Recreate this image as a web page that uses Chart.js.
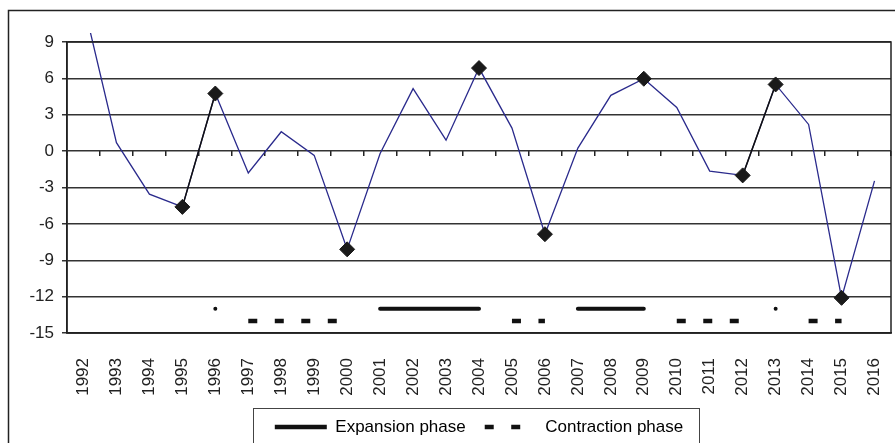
<!DOCTYPE html>
<html>
<head>
<meta charset="utf-8">
<script src="https://cdn.jsdelivr.net/npm/chart.js@4.4.1/dist/chart.umd.min.js"></script>
<style>
    html, body { margin: 0; padding: 0; background: #fff; overflow: hidden; }
    #wrap { width: 895px; height: 443px; }
</style>
</head>
<body>
<div id="wrap"><canvas id="cycleChart" width="895" height="443"></canvas></div>
<script>
// categories
const years = ["1992", "1993", "1994", "1995", "1996", "1997", "1998", "1999", "2000",
    "2001", "2002", "2003", "2004", "2005", "2006", "2007", "2008", "2009", "2010",
    "2011", "2012", "2013", "2014", "2015", "2016"];

// growth series (blue line)
const growth = [12.2, 0.7, -3.55, -4.6, 4.75, -1.8, 1.6, -0.35, -8.1,
    -0.2, 5.15, 0.9, 6.85, 1.9, -6.85, 0.25, 4.6, 5.97, 3.6,
    -1.65, -2.0, 5.5, 2.2, -12.1, -2.45];

// turning points (diamonds)
const turningPoints = [null, null, null, -4.6, 4.75, null, null, null, -8.1,
    null, null, null, 6.85, null, -6.85, null, null, 5.97, null,
    null, -2.0, 5.5, null, -12.1, null];

// phase markers at the bottom of the plot
const expansion = [null, null, null, null, -13, null, null, null, null,
    -13, -13, -13, -13, null, null, -13, -13, -13, null,
    null, null, -13, null, null, null];
const contraction = [null, null, null, null, null, -14, -14, -14, -14,
    null, null, null, null, -14, -14, null, null, null, -14,
    -14, -14, null, -14, -14, null];

// y axis tick labels
const yTicks = [-15, -12, -9, -6, -3, 0, 3, 6, 9];

document.addEventListener("DOMContentLoaded", function () {
    Chart.defaults.font.family = "'Liberation Sans', Arial, sans-serif";
    Chart.defaults.font.size = 17;
    Chart.defaults.color = "#222";

    // isolated phase points show as a small dot
    function dotIfAlone(ctx) {
        const d = ctx.dataset.data;
        const i = ctx.dataIndex;
        if (d[i] === null) return 0;
        const prev = i > 0 ? d[i - 1] : null;
        const next = i < d.length - 1 ? d[i + 1] : null;
        return prev === null && next === null ? 1.3 : 0;
    }

    // no label overhang on the sides of the x axes
    function noSidePadding(scale) {
        scale.paddingLeft = 0;
        scale.paddingRight = 0;
    }

    // outer frame, plot frame, legend frame
    const frames = {
        id: "frames",
        beforeDraw: function (chart) {
            const ctx = chart.ctx;
            ctx.save();
            ctx.fillStyle = "#fff";
            ctx.fillRect(0, 0, chart.width, chart.height);
            ctx.strokeStyle = "#222";
            ctx.lineWidth = 1.5;
            ctx.strokeRect(8.5, 10.5, chart.width + 20, chart.height + 20);
            ctx.restore();
        },
        afterDraw: function (chart) {
            const ctx = chart.ctx;
            const a = chart.chartArea;
            ctx.save();
            ctx.strokeStyle = "#222";
            ctx.lineWidth = 1.5;
            ctx.strokeRect(a.left, a.top, a.right - a.left, a.bottom - a.top);
            const hb = chart.legend.legendHitBoxes;
            if (hb && hb.length) {
                const first = hb[0];
                const last = hb[hb.length - 1];
                const left = Math.round(first.left - 22) + 0.5;
                const right = Math.round(last.left + last.width + 16) + 0.5;
                const top = Math.round(first.top - 11) + 0.5;
                ctx.strokeStyle = "#444";
                ctx.lineWidth = 1;
                ctx.strokeRect(left, top, right - left, chart.height + 10 - top);
            }
            ctx.restore();
        },
    };

    const ctx = document.getElementById("cycleChart").getContext("2d");
    new Chart(ctx, {
        type: "line",
        data: {
            labels: years,
            datasets: [
                {
                    label: "Growth",
                    data: growth,
                    borderColor: "#2a2a8c",
                    borderWidth: 1.3,
                    pointRadius: 0,
                    tension: 0,
                    order: 1,
                    clip: { left: 0, top: 9, right: 0, bottom: 0 },
                },
                {
                    label: "Turning points",
                    data: turningPoints,
                    borderColor: "#111",
                    borderWidth: 1.5,
                    pointStyle: "rectRot",
                    pointRadius: 7.5,
                    pointBackgroundColor: "#1a1a1a",
                    pointBorderColor: "#1a1a1a",
                    pointBorderWidth: 1,
                    spanGaps: false,
                    order: 0,
                },
                {
                    label: "Expansion phase",
                    data: expansion,
                    borderColor: "#111",
                    backgroundColor: "#111",
                    borderWidth: 4,
                    borderCapStyle: "round",
                    pointRadius: dotIfAlone,
                    pointBorderWidth: 0,
                    pointBackgroundColor: "#111",
                    spanGaps: false,
                    order: 2,
                },
                {
                    label: "Contraction phase",
                    data: contraction,
                    borderColor: "#111",
                    backgroundColor: "#111",
                    borderWidth: 4.5,
                    borderDash: [9, 17.5],
                    pointRadius: 0,
                    spanGaps: false,
                    order: 2,
                },
            ],
        },
        options: {
            responsive: false,
            animation: false,
            layout: {
                autoPadding: false,
                padding: { top: 42, left: 0, right: 4, bottom: -2.5 },
            },
            plugins: {
                tooltip: { enabled: false },
                legend: {
                    position: "bottom",
                    fullSize: false,
                    labels: {
                        usePointStyle: true,
                        pointStyleWidth: 52,
                        padding: 19,
                        color: "#222",
                        font: { size: 17 },
                        generateLabels: function (chart) {
                            return [2, 3].map(function (i) {
                                const ds = chart.data.datasets[i];
                                return {
                                    text: ds.label,
                                    datasetIndex: i,
                                    pointStyle: "line",
                                    strokeStyle: "#111",
                                    fillStyle: "#111",
                                    lineWidth: 4.5,
                                    lineDash: ds.borderDash || [],
                                    hidden: false,
                                };
                            });
                        },
                    },
                },
            },
            scales: {
                x: {
                    type: "category",
                    offset: true,
                    grid: { display: false },
                    border: { display: true, color: "#222", width: 1.5 },
                    ticks: {
                        autoSkip: false,
                        minRotation: 90,
                        maxRotation: 90,
                        padding: 17,
                        color: "#222",
                        font: { size: 17 },
                    },
                    afterFit: function (scale) {
                        scale.height = 66.5;
                        noSidePadding(scale);
                    },
                },
                // tick marks sitting on the zero line
                xZero: {
                    type: "category",
                    axis: "x",
                    position: { y: 0 },
                    offset: true,
                    border: { display: false },
                    grid: {
                        offset: true,
                        drawOnChartArea: false,
                        drawTicks: true,
                        tickLength: 5,
                        color: "#222",
                        lineWidth: 1.5,
                    },
                    ticks: { display: false, autoSkip: false },
                    afterFit: noSidePadding,
                },
                y: {
                    min: -15,
                    max: 9,
                    afterBuildTicks: function (scale) {
                        scale.ticks = yTicks.map(function (v) {
                            return { value: v };
                        });
                    },
                    afterFit: function (scale) {
                        scale.width = 67;
                    },
                    grid: {
                        color: "#333",
                        lineWidth: 1.5,
                        tickLength: 5,
                    },
                    border: { display: true, color: "#222", width: 1.5 },
                    ticks: {
                        padding: 8,
                        color: "#222",
                        font: { size: 17 },
                    },
                },
            },
        },
        plugins: [frames],
    });
});
</script>
</body>
</html>
